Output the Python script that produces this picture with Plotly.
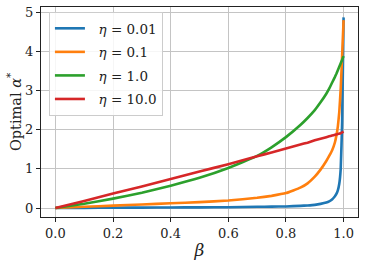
import plotly.graph_objects as go

beta = [0, 0.1, 0.2, 0.3, 0.4, 0.5, 0.6, 0.7, 0.75, 0.8, 0.85, 0.875, 0.9, 0.92, 0.94, 0.95,
        0.96, 0.97, 0.975, 0.98, 0.985, 0.99, 0.995, 1.0]

alpha_eta_001 = [0, 0.003, 0.007, 0.01, 0.013, 0.017, 0.02, 0.03, 0.035, 0.04, 0.055, 0.065,
                 0.08, 0.105, 0.14, 0.17, 0.22, 0.3, 0.36, 0.45, 0.62, 1.0, 2.2, 4.87]
alpha_eta_01 = [0, 0.03, 0.06, 0.09, 0.12, 0.15, 0.19, 0.26, 0.31, 0.38, 0.52, 0.63,
                0.8, 0.98, 1.2, 1.33, 1.47, 1.68, 1.85, 2.08, 2.45, 3.05, 3.9, 4.8]
alpha_eta_1 = [0, 0.11, 0.24, 0.39, 0.57, 0.77, 1.02, 1.33, 1.55, 1.81, 2.12, 2.3,
               2.5, 2.7, 2.92, 3.05, 3.2, 3.35, 3.43, 3.52, 3.61, 3.7, 3.79, 3.88]
alpha_eta_10 = [0, 0.18, 0.37, 0.55, 0.74, 0.93, 1.12, 1.32, 1.42, 1.52, 1.62, 1.67,
                1.73, 1.77, 1.81, 1.83, 1.85, 1.87, 1.88, 1.89, 1.90, 1.91, 1.93, 1.95]

labels = ["\u00a0\u00a0<i>η</i> = 0.01", "\u00a0\u00a0<i>η</i> = 0.1",
          "\u00a0\u00a0<i>η</i> = 1.0", "\u00a0\u00a0<i>η</i> = 10.0"]
colors = ["#1f77b4", "#ff7f0e", "#2ca02c", "#d62728"]
series = [alpha_eta_001, alpha_eta_01, alpha_eta_1, alpha_eta_10]

x_ticks = [0.0, 0.2, 0.4, 0.6, 0.8, 1.0]
x_ticklabels = ["0.0", "0.2", "0.4", "0.6", "0.8", "1.0"]
y_ticks = [0, 1, 2, 3, 4, 5]
y_ticklabels = ["0", "1", "2", "3", "4", "5"]

FONT = "DejaVu Serif"

fig = go.Figure()
for i, (lab, col, ys) in enumerate(zip(labels, colors, series)):
    fig.add_trace(go.Scatter(x=beta, y=ys, mode="lines", name=lab, legendgroup=f"g{i}",
                             line=dict(color=col, width=2.6, shape="spline", smoothing=0.3)))

axis_common = dict(showline=True, linecolor="#222222", linewidth=1, mirror=True,
                   ticks="outside", ticklen=4, tickwidth=1, tickcolor="#222222",
                   showgrid=True, gridcolor="#c4c4c4", gridwidth=1, zeroline=False,
                   automargin=False,
                   tickfont=dict(family=FONT, size=13, color="#222222"))

fig.update_layout(
    width=365, height=266,
    margin=dict(l=41, r=7, t=7, b=49),
    paper_bgcolor="white", plot_bgcolor="white",
    font=dict(family=FONT, color="#222222"),
    xaxis=dict(range=[-0.05, 1.05], tickvals=x_ticks, ticktext=x_ticklabels,
               title=dict(text="<i>β</i>", font=dict(family=FONT, size=17), standoff=4),
               **axis_common),
    yaxis=dict(range=[-0.23, 5.135], tickvals=y_ticks, ticktext=y_ticklabels,
               title=dict(text="Optimal <i>α</i><sup>*</sup>", font=dict(family=FONT, size=14.5), standoff=0),
               **axis_common),
    legend=dict(x=0.025, y=0.976, xanchor="left", yanchor="top",
                bgcolor="rgba(255,255,255,0.85)", bordercolor="#cccccc", borderwidth=1,
                font=dict(family=FONT, size=13.5, color="#222222"),
                tracegroupgap=3, itemwidth=30),
    showlegend=True,
)

# remove the page's default 8px body margin so the figure sits at the window's corner
fig.write_html("out.html", config={"displayModeBar": False},
               post_script="document.body.style.margin='0';")
